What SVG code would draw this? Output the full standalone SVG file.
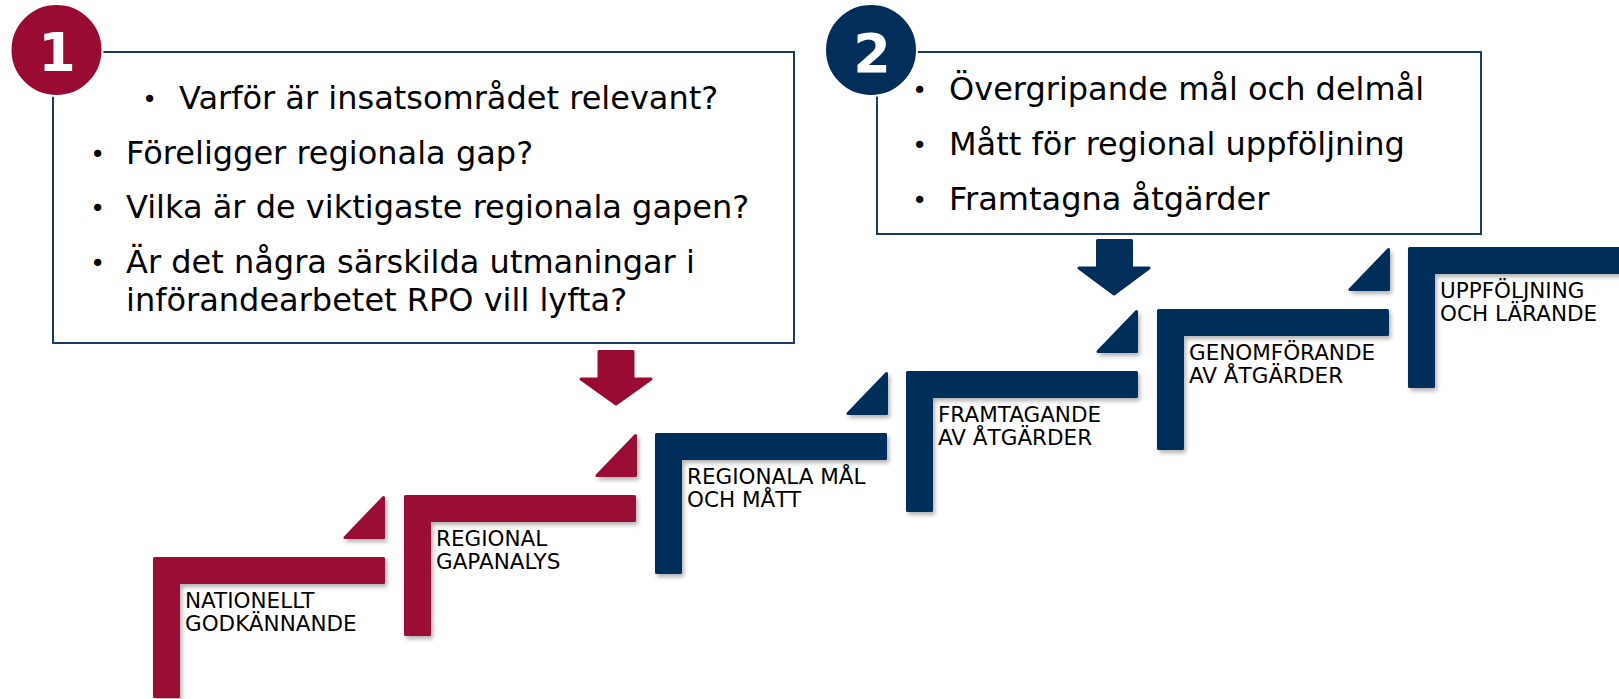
<svg xmlns="http://www.w3.org/2000/svg" xmlns:xlink="http://www.w3.org/1999/xlink" width="1619" height="699" viewBox="0 0 1619 699">
  <style>
    .box { fill: #ffffff; stroke: #1B3A64; stroke-width: 2; }
    .q { font-family: "DejaVu Sans", Verdana, sans-serif; font-size: 32px; fill: #000000; }
    .b { font-family: "DejaVu Sans", Verdana, sans-serif; font-size: 25px; fill: #000000; text-anchor: middle; }
    .num { font-family: "DejaVu Sans", Verdana, sans-serif; font-size: 54px; font-weight: bold; fill: #ffffff; text-anchor: middle; }
    .lbl { font-family: "DejaVu Sans", Verdana, sans-serif; font-size: 21.5px; fill: #000000; }
    .red { fill: #9A0B34; stroke: #9A0B34; stroke-width: 3; stroke-linejoin: round; }
    .blue { fill: #032E5A; stroke: #032E5A; stroke-width: 3; stroke-linejoin: round; }
    .sh { filter: url(#shadow); }
    .badge-ring { stroke: #ffffff; stroke-width: 2; }
  </style>
  <defs>
    <filter id="shadow" x="-20%" y="-20%" width="150%" height="150%">
      <feDropShadow dx="2" dy="3" stdDeviation="2" flood-color="#000000" flood-opacity="0.3"/>
    </filter>
    <path id="step" d="M1.5,1.5 H230.5 V25.5 H25.5 V139.5 H1.5 Z"/>
    <path id="tri" d="M-1.5,2.5 V42.5 H-40 Z"/>
  </defs>

  <!-- Question box 1 -->
  <g id="box1">
    <rect class="box" x="53" y="52" width="741" height="291"/>
    <text class="b" x="149.5" y="108">•</text>
    <text class="q" x="179" y="109">Varför är insatsområdet relevant?</text>
    <text class="b" x="97.5" y="163">•</text>
    <text class="q" x="126" y="164">Föreligger regionala gap?</text>
    <text class="b" x="97.5" y="217">•</text>
    <text class="q" x="126" y="218">Vilka är de viktigaste regionala gapen?</text>
    <text class="b" x="97.5" y="272">•</text>
    <text class="q" x="126" y="273">Är det några särskilda utmaningar i</text>
    <text class="q" x="126" y="311">införandearbetet RPO vill lyfta?</text>
  </g>
  <g id="badge1">
    <circle class="badge-ring" cx="56.5" cy="50" r="46" fill="#9A0B34"/>
    <text class="num" x="57" y="71">1</text>
  </g>

  <!-- Question box 2 -->
  <g id="box2">
    <rect class="box" x="877" y="52" width="604" height="182"/>
    <text class="b" x="919.5" y="99">•</text>
    <text class="q" x="949" y="100">Övergripande mål och delmål</text>
    <text class="b" x="919.5" y="154">•</text>
    <text class="q" x="949" y="155">Mått för regional uppföljning</text>
    <text class="b" x="919.5" y="209">•</text>
    <text class="q" x="949" y="210">Framtagna åtgärder</text>
  </g>
  <g id="badge2">
    <circle class="badge-ring" cx="871" cy="50" r="46" fill="#032E5A"/>
    <text class="num" x="872" y="72">2</text>
  </g>

  <!-- Connectors (down arrows) -->
  <g id="connectors">
    <path class="red" d="M599,351.5 H633 V379 H651 L616,404 L581,379 H599 Z"/>
    <path class="blue" d="M1097.5,240.5 H1131.5 V268 H1149 L1114,294 L1079,268 H1097.5 Z"/>
  </g>

  <!-- Steps -->
  <g id="step1">
    <use href="#step" xlink:href="#step" class="red sh" x="153" y="557"/>
    <text class="lbl" x="185" y="608">NATIONELLT</text>
    <text class="lbl" x="185" y="631">GODKÄNNANDE</text>
  </g>
  <g id="tri1">
    <use href="#tri" xlink:href="#tri" class="red sh" x="385" y="495"/>
  </g>
  <g id="step2">
    <use href="#step" xlink:href="#step" class="red sh" x="404" y="495"/>
    <text class="lbl" x="436" y="546">REGIONAL</text>
    <text class="lbl" x="436" y="569">GAPANALYS</text>
  </g>
  <g id="tri2">
    <use href="#tri" xlink:href="#tri" class="red sh" x="637" y="433"/>
  </g>
  <g id="step3">
    <use href="#step" xlink:href="#step" class="blue sh" x="655" y="433"/>
    <text class="lbl" x="687" y="484">REGIONALA MÅL</text>
    <text class="lbl" x="687" y="507">OCH MÅTT</text>
  </g>
  <g id="tri3">
    <use href="#tri" xlink:href="#tri" class="blue sh" x="888" y="371"/>
  </g>
  <g id="step4">
    <use href="#step" xlink:href="#step" class="blue sh" x="906" y="371"/>
    <text class="lbl" x="938" y="422">FRAMTAGANDE</text>
    <text class="lbl" x="938" y="445">AV ÅTGÄRDER</text>
  </g>
  <g id="tri4">
    <use href="#tri" xlink:href="#tri" class="blue sh" x="1138" y="309"/>
  </g>
  <g id="step5">
    <use href="#step" xlink:href="#step" class="blue sh" x="1157" y="309"/>
    <text class="lbl" x="1189" y="360">GENOMFÖRANDE</text>
    <text class="lbl" x="1189" y="383">AV ÅTGÄRDER</text>
  </g>
  <g id="tri5">
    <use href="#tri" xlink:href="#tri" class="blue sh" x="1390" y="247"/>
  </g>
  <g id="step6">
    <use href="#step" xlink:href="#step" class="blue sh" x="1408" y="247"/>
    <text class="lbl" x="1440" y="298">UPPFÖLJNING</text>
    <text class="lbl" x="1440" y="321">OCH LÄRANDE</text>
  </g>
</svg>
